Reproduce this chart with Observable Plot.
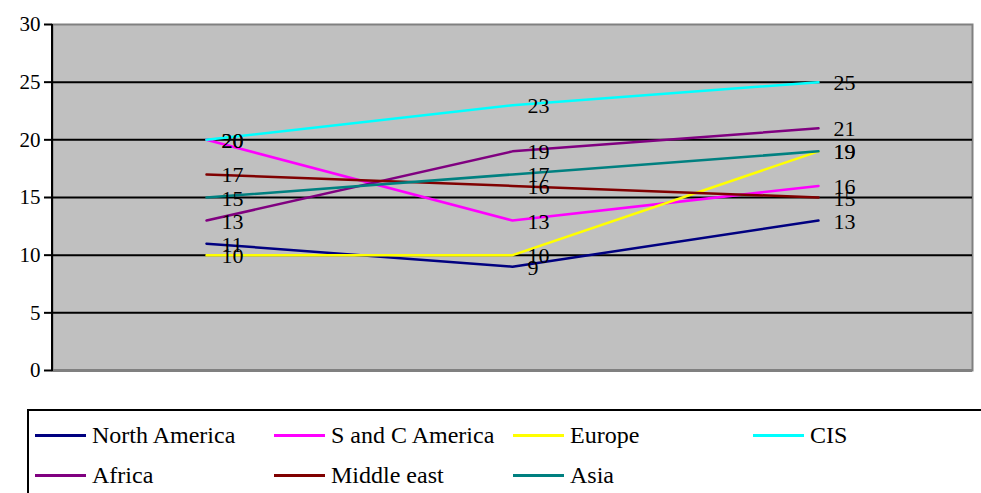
<!DOCTYPE html>
<html>
<head>
<meta charset="utf-8">
<script src="https://cdn.jsdelivr.net/npm/d3@7"></script>
<script src="https://cdn.jsdelivr.net/npm/@observablehq/plot@0.6"></script>
<style>
  html, body { margin: 0; padding: 0; background: #fff; overflow: hidden; width: 981px; height: 493px; }
  #wrap { position: relative; width: 981px; height: 493px; }
  #legend { position: absolute; left: 27px; top: 409px; width: 1000px; height: 120px;
    border: 2px solid #000; box-sizing: border-box; font-family: "Times New Roman", "Liberation Serif", Tinos, "DejaVu Serif", serif; font-size: 24px; color: #000; }
  .item { position: absolute; display: flex; align-items: center; height: 30px; }
  .sw { width: 51px; height: 3px; margin-right: 6px; }
</style>
</head>
<body>
<div id="wrap"><div id="chart"></div><div id="legend"></div></div>
<script>
const categories = ["A", "B", "C"];
const seriesNames = ["North America", "S and C America", "Europe", "CIS", "Africa", "Middle east", "Asia"];
const seriesColors = ["#000080", "#FF00FF", "#FFFF00", "#00FFFF", "#800080", "#800000", "#008080"];
const northAmerica = [11, 9, 13];
const sAndCAmerica = [20, 13, 16];
const europe = [10, 10, 19];
const cis = [20, 23, 25];
const africa = [13, 19, 21];
const middleEast = [17, 16, 15];
const asia = [15, 17, 19];
const yTicks = [0, 5, 10, 15, 20, 25, 30];
const gridValues = [5, 10, 15, 20, 25];

const seriesValues = [northAmerica, sAndCAmerica, europe, cis, africa, middleEast, asia];
const data = [];
seriesNames.forEach((s, i) => seriesValues[i].forEach((v, j) => data.push({series: s, cat: categories[j], value: v})));

const font = "'Times New Roman', 'Liberation Serif', Tinos, 'DejaVu Serif', serif";
const chart = Plot.plot({
  width: 981,
  height: 400,
  marginTop: 24,
  marginBottom: 30,
  marginLeft: 52,
  marginRight: 9,
  style: {fontFamily: font, fontSize: "21px", color: "#000", background: "transparent"},
  x: {type: "point", domain: categories, padding: 0.5, axis: null},
  y: {domain: [0, 30], ticks: yTicks, label: null},
  color: {domain: seriesNames, range: seriesColors},
  marks: [
    Plot.frame({fill: "#C0C0C0", stroke: "#808080", strokeWidth: 2}),
    Plot.ruleY(gridValues, {stroke: "#000", strokeWidth: 2}),
    Plot.ruleY([0], {stroke: "#808080", strokeWidth: 3}),
    Plot.axisY({ticks: yTicks, tickSize: 8, tickPadding: 4, stroke: "#000", strokeWidth: 2, fontSize: 21, fontFamily: font, label: null}),
    Plot.line(data, {x: "cat", y: "value", z: "series", stroke: "series", strokeWidth: 2.5}),
    Plot.text(data, {x: "cat", y: "value", text: d => String(d.value), textAnchor: "start", dx: 15, dy: 1, fontSize: 22, fontFamily: font, fill: "#000"})
  ]
});
document.getElementById("chart").appendChild(chart);

// left axis line
const svg = d3.select(chart);
svg.append("line").attr("x1", 52).attr("x2", 52).attr("y1", 24).attr("y2", 371).attr("stroke", "#000").attr("stroke-width", 2);

const legend = document.getElementById("legend");
const colX = [6, 245, 484, 724];
const rowY = [9, 49];
seriesNames.forEach((s, i) => {
  const el = document.createElement("div");
  el.className = "item";
  el.style.left = colX[i % 4] + "px";
  el.style.top = rowY[Math.floor(i / 4)] + "px";
  const sw = document.createElement("div");
  sw.className = "sw";
  sw.style.background = seriesColors[i];
  const t = document.createElement("span");
  t.textContent = s;
  el.appendChild(sw); el.appendChild(t);
  legend.appendChild(el);
});
</script>
</body>
</html>
